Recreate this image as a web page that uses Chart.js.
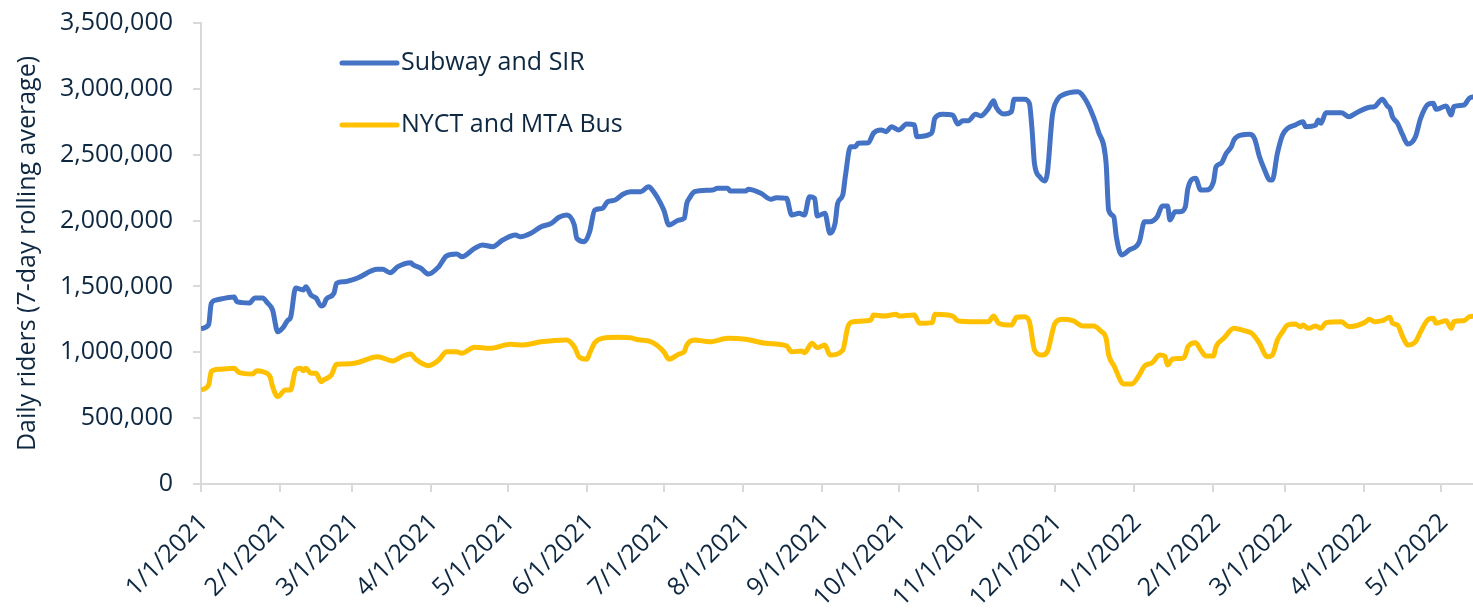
<!DOCTYPE html>
<html>
<head>
<meta charset="utf-8">
<script src="https://cdn.jsdelivr.net/npm/chart.js@4.4.1/dist/chart.umd.min.js"></script>
<style>
  html, body { margin: 0; padding: 0; background: #fff; }
  #wrap { width: 1473px; height: 609px; }
</style>
</head>
<body>
<div id="wrap"><canvas id="myChart" width="1473" height="609"></canvas></div>
<script>
// days counted from 1/1/2021
let monthStarts = [0, 31, 59, 90, 120, 151, 181, 212, 243, 273, 304, 334, 365, 396, 424, 455, 485];
let monthLabels = [
  "1/1/2021", "2/1/2021", "3/1/2021", "4/1/2021", "5/1/2021", "6/1/2021",
  "7/1/2021", "8/1/2021", "9/1/2021", "10/1/2021", "11/1/2021", "12/1/2021",
  "1/1/2022", "2/1/2022", "3/1/2022", "4/1/2022", "5/1/2022",
];

let subwayDays = [
  0, 3, 4, 6, 13, 14, 19, 21, 24, 26, 28, 30, 32, 34, 35, 37, 40, 41, 43, 45,
  47, 48, 49, 52, 53, 56, 61, 69, 71, 74, 77, 82, 83, 86, 89, 93, 96, 100, 102, 107,
  110, 114, 118, 123, 125, 129, 133, 137, 140, 143, 146, 147, 150, 152, 154, 157, 159, 162, 165, 168,
  172, 175, 176, 181, 183, 187, 189, 190, 191, 193, 200, 202, 206, 207, 213, 214, 219, 223, 225, 229,
  231, 234, 236, 238, 240, 241, 244, 246, 248, 249, 251, 252, 254, 256, 257, 261, 263, 266, 268, 270,
  273, 276, 279, 280, 285, 286, 287, 290, 294, 296, 298, 300, 303, 305, 308, 310, 311, 314, 317, 318,
  322, 324, 325, 326, 328, 330, 331, 333, 335, 337, 343, 346, 349, 351, 354, 355, 357, 358, 360, 363,
  367, 369, 371, 374, 376, 378, 379, 381, 383, 385, 386, 389, 391, 393, 396, 397, 399, 401, 403, 404,
  407, 410, 412, 414, 416, 418, 419, 421, 423, 425, 428, 431, 432, 436, 437, 438, 440, 446, 449, 452,
  457, 459, 462, 464, 465, 466, 468, 470, 472, 475, 477, 480, 482, 483, 487, 489, 490, 494, 496, 498,
];
let subwayRiders = [
  1180000, 1210000, 1370000, 1397000, 1420000, 1385000, 1375000, 1412000, 1412000, 1375000, 1320000, 1156000, 1185000, 1245000, 1262000, 1488000, 1473000, 1498000, 1435000, 1412000,
  1351000, 1359000, 1404000, 1448000, 1524000, 1536000, 1562000, 1630000, 1630000, 1604000, 1650000, 1680000, 1663000, 1638000, 1594000, 1650000, 1731000, 1746000, 1726000, 1789000,
  1815000, 1802000, 1852000, 1890000, 1877000, 1903000, 1953000, 1979000, 2025000, 2042000, 1966000, 1865000, 1840000, 1915000, 2080000, 2093000, 2143000, 2156000, 2200000, 2219000,
  2219000, 2257000, 2245000, 2080000, 1966000, 2004000, 2017000, 2131000, 2169000, 2219000, 2232000, 2245000, 2245000, 2224000, 2224000, 2237000, 2207000, 2161000, 2174000, 2169000,
  2042000, 2055000, 2042000, 2181000, 2169000, 2035000, 2055000, 1903000, 1979000, 2131000, 2194000, 2333000, 2561000, 2561000, 2587000, 2591000, 2663000, 2688000, 2675000, 2713000,
  2688000, 2733000, 2726000, 2637000, 2655000, 2675000, 2776000, 2807000, 2801000, 2733000, 2758000, 2758000, 2807000, 2794000, 2852000, 2910000, 2860000, 2809000, 2827000, 2921000,
  2921000, 2890000, 2700000, 2430000, 2333000, 2300000, 2359000, 2800000, 2920000, 2953000, 2978000, 2915000, 2789000, 2675000, 2435000, 2080000, 2029000, 1877000, 1739000, 1777000,
  1840000, 1991000, 1991000, 2029000, 2111000, 2111000, 2004000, 2067000, 2067000, 2105000, 2245000, 2321000, 2232000, 2232000, 2295000, 2409000, 2435000, 2511000, 2561000, 2612000,
  2650000, 2655000, 2625000, 2485000, 2384000, 2308000, 2308000, 2511000, 2650000, 2700000, 2726000, 2751000, 2713000, 2726000, 2764000, 2738000, 2819000, 2819000, 2789000, 2819000,
  2860000, 2865000, 2921000, 2870000, 2852000, 2789000, 2738000, 2650000, 2581000, 2637000, 2776000, 2883000, 2890000, 2845000, 2870000, 2801000, 2865000, 2877000, 2928000, 2940000,
];

let busDays = [
  0, 3, 4, 7, 13, 15, 20, 22, 24, 27, 28, 30, 33, 35, 37, 39, 40, 41, 43, 45,
  47, 48, 51, 53, 56, 61, 69, 75, 79, 82, 84, 89, 93, 96, 100, 102, 107, 113, 121, 126,
  133, 143, 146, 148, 151, 152, 154, 157, 163, 168, 171, 176, 181, 183, 187, 189, 190, 193, 199, 206,
  213, 221, 229, 231, 235, 236, 239, 241, 244, 246, 251, 253, 255, 262, 263, 267, 272, 273, 279, 281,
  286, 287, 294, 296, 303, 308, 310, 312, 317, 319, 322, 324, 326, 329, 331, 334, 337, 341, 345, 349,
  352, 354, 355, 357, 361, 364, 367, 369, 372, 375, 377, 378, 380, 384, 385, 386, 389, 391, 393, 396,
  397, 400, 404, 408, 411, 414, 417, 419, 421, 423, 425, 428, 430, 431, 433, 436, 438, 440, 446, 449,
  455, 457, 459, 462, 465, 466, 468, 470, 472, 475, 477, 480, 482, 483, 487, 489, 490, 494, 496, 498,
];
let busRiders = [
  714000, 752000, 853000, 871000, 878000, 845000, 835000, 860000, 853000, 815000, 739000, 663000, 714000, 714000, 865000, 878000, 860000, 878000, 840000, 840000,
  777000, 790000, 828000, 909000, 911000, 921000, 967000, 934000, 972000, 987000, 947000, 898000, 941000, 1004000, 1004000, 992000, 1038000, 1030000, 1061000, 1055000,
  1080000, 1093000, 1042000, 962000, 947000, 992000, 1073000, 1106000, 1114000, 1110000, 1095000, 1080000, 1004000, 947000, 987000, 1004000, 1055000, 1093000, 1080000, 1106000,
  1099000, 1068000, 1048000, 1004000, 1010000, 997000, 1068000, 1035000, 1055000, 979000, 1017000, 1194000, 1232000, 1245000, 1283000, 1275000, 1288000, 1275000, 1283000, 1220000,
  1225000, 1288000, 1275000, 1240000, 1232000, 1232000, 1275000, 1220000, 1207000, 1266000, 1270000, 1232000, 1017000, 979000, 1004000, 1220000, 1250000, 1240000, 1199000, 1199000,
  1160000, 1106000, 980000, 900000, 759000, 759000, 828000, 895000, 921000, 979000, 970000, 903000, 950000, 954000, 979000, 1042000, 1073000, 1017000, 972000, 972000,
  1042000, 1106000, 1182000, 1164000, 1144000, 1068000, 967000, 979000, 1093000, 1156000, 1207000, 1215000, 1194000, 1207000, 1182000, 1199000, 1182000, 1225000, 1232000, 1194000,
  1225000, 1250000, 1232000, 1240000, 1266000, 1220000, 1207000, 1118000, 1055000, 1080000, 1156000, 1250000, 1258000, 1220000, 1240000, 1182000, 1232000, 1240000, 1270000, 1275000,
];

let textColor = "#0E2841";
let axisColor = "#D9D9D9";
let font = "Open Sans";

function toPoints(days, values) {
  return days.map((d, i) => ({ x: d, y: values[i] }));
}

// legend drawn inside the plot, stacked, like the original
let insideLegend = {
  id: "insideLegend",
  afterDraw(chart) {
    let ctx = chart.ctx;
    let a = chart.chartArea;
    chart.data.datasets.forEach((ds, i) => {
      let x = a.left + 141;
      let y = a.top + 40 + i * 62;
      ctx.save();
      ctx.strokeStyle = ds.borderColor;
      ctx.lineWidth = 5;
      ctx.lineCap = "round";
      ctx.beginPath();
      ctx.moveTo(x, y);
      ctx.lineTo(x + 55, y);
      ctx.stroke();
      ctx.fillStyle = textColor;
      ctx.font = "25px '" + font + "'";
      ctx.textBaseline = "middle";
      ctx.fillText(ds.label, x + 59, y);
      ctx.restore();
    });
  },
};

let ctx = document.getElementById("myChart").getContext("2d");
let ridersChart = new Chart(ctx, {
  type: "line",
  data: {
    datasets: [
      {
        label: "Subway and SIR",
        data: toPoints(subwayDays, subwayRiders),
        borderColor: "#4472C4",
        borderWidth: 5,
        pointRadius: 0,
        cubicInterpolationMode: "monotone",
      },
      {
        label: "NYCT and MTA Bus",
        data: toPoints(busDays, busRiders),
        borderColor: "#FFC000",
        borderWidth: 5,
        pointRadius: 0,
        cubicInterpolationMode: "monotone",
      },
    ],
  },
  options: {
    responsive: false,
    animation: false,
    layout: { padding: 0 },
    plugins: {
      legend: { display: false },
      tooltip: { enabled: false },
    },
    scales: {
      x: {
        type: "linear",
        min: 0,
        max: 497.5,
        afterBuildTicks(scale) {
          scale.ticks = monthStarts.map((v) => ({ value: v }));
        },
        afterFit(scale) {
          scale.height = 125;
          scale.paddingLeft = 0;
          scale.paddingRight = 0;
        },
        border: { color: axisColor, width: 2 },
        grid: { drawOnChartArea: false, drawTicks: true, tickLength: 8, color: axisColor, lineWidth: 2 },
        ticks: {
          autoSkip: false,
          maxRotation: 45,
          minRotation: 45,
          padding: 16,
          labelOffset: 3,
          color: textColor,
          font: { family: font, size: 25 },
          callback(value) {
            let i = monthStarts.indexOf(value);
            return i >= 0 ? monthLabels[i] : "";
          },
        },
      },
      y: {
        min: 0,
        max: 3500000,
        afterFit(scale) {
          scale.width = 201;
          scale.paddingTop = 23;
          scale.paddingBottom = 0;
        },
        border: { color: axisColor, width: 2 },
        grid: { drawOnChartArea: false, drawTicks: true, tickLength: 8, color: axisColor, lineWidth: 2 },
        ticks: {
          stepSize: 500000,
          padding: 20,
          color: textColor,
          font: { family: font, size: 25 },
          callback(value) {
            return value.toLocaleString("en-US");
          },
        },
        title: {
          display: true,
          text: "Daily riders (7-day rolling average)",
          color: textColor,
          font: { family: font, size: 25 },
          padding: { top: 13, bottom: 0 },
        },
      },
    },
  },
  plugins: [insideLegend],
});
</script>
</body>
</html>
